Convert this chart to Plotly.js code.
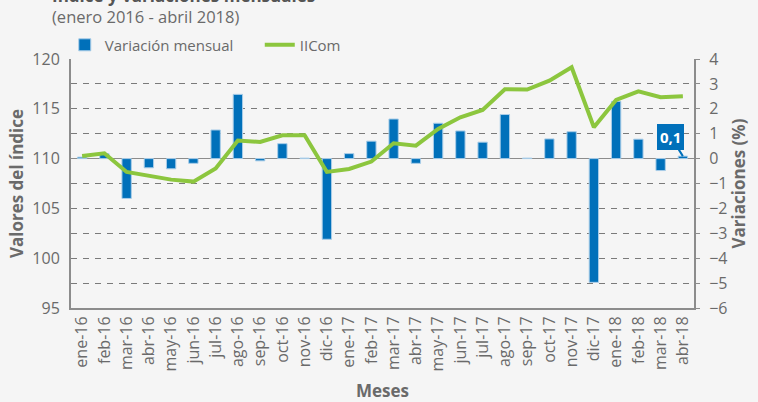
<!DOCTYPE html>
<html>
<head>
<meta charset="utf-8">
<script src="https://cdn.plot.ly/plotly-3.0.1.min.js"></script>
<style>
html,body{margin:0;padding:0;background:#f5f5f5;}
#chart{width:758px;height:402px;}
</style>
</head>
<body>
<div id="chart"></div>
<script>
var meses = ['ene-16','feb-16','mar-16','abr-16','may-16','jun-16','jul-16','ago-16','sep-16','oct-16','nov-16','dic-16',
             'ene-17','feb-17','mar-17','abr-17','may-17','jun-17','jul-17','ago-17','sep-17','oct-17','nov-17','dic-17',
             'ene-18','feb-18','mar-18','abr-18'];
var variacionMensual = [0.06, 0.2, -1.6, -0.37, -0.41, -0.19, 1.15, 2.58, -0.09, 0.6, 0.02, -3.24,
                        0.2, 0.7, 1.59, -0.19, 1.42, 1.11, 0.66, 1.77, 0.02, 0.79, 1.08, -4.97,
                        2.3, 0.78, -0.48, 0.1];
var iicom = [110.27, 110.54, 108.66, 108.29, 107.89, 107.69, 109.0, 111.81, 111.67, 112.34, 112.34, 108.66,
             108.96, 109.7, 111.54, 111.3, 112.98, 114.15, 114.89, 116.96, 116.93, 117.83, 119.17, 113.15,
             115.89, 116.76, 116.16, 116.26];
var etiquetaUltimo = '0,1';

var gray = '#6a6a6a';
var blue = '#0070ba';
var green = '#8cc63e';

var traces = [
  {
    type: 'bar', name: 'Variación mensual', x: meses, y: variacionMensual,
    xaxis: 'x', yaxis: 'y',
    marker: {color: blue, line: {color: '#a9cde8', width: 1}},
    hoverinfo: 'x+y'
  },
  {
    type: 'scatter', mode: 'lines', name: 'IICom', x: meses, y: iicom,
    xaxis: 'x', yaxis: 'y2',
    line: {color: green, width: 4},
    hoverinfo: 'x+y'
  }
];

var layout = {
  width: 758, height: 402,
  margin: {l: 71, r: 64, t: 59, b: 94},
  paper_bgcolor: '#f5f5f5', plot_bgcolor: '#f5f5f5',
  font: {family: '"Open Sans", "Noto Sans", sans-serif', color: gray, size: 14},
  bargap: 0.58,
  showlegend: true,
  legend: {
    orientation: 'h', x: -0.01, xanchor: 'left', y: 1.056, yanchor: 'middle',
    font: {size: 15, color: gray}, bgcolor: 'rgba(0,0,0,0)',
    entrywidth: 150, entrywidthmode: 'pixels', itemwidth: 30
  },
  xaxis: {
    type: 'category', tickangle: -90, tickfont: {size: 16, color: gray},
    showline: true, linecolor: '#8c8c8c', linewidth: 2, mirror: false,
    ticks: '', showgrid: false, zeroline: false,
    title: {text: 'Meses', font: {size: 17, color: gray, weight: 'bold'}, standoff: 20}
  },
  yaxis: {
    side: 'right', range: [-6, 4], dtick: 1, tick0: 0,
    showline: true, linecolor: '#8c8c8c', linewidth: 2,
    ticks: 'outside', ticklen: 4, tickcolor: '#8c8c8c',
    tickfont: {size: 16, color: gray},
    showgrid: true, gridcolor: '#7a7a7a', gridwidth: 1, griddash: '6px,6px',
    zeroline: true, zerolinecolor: '#8c8c8c', zerolinewidth: 1.5,
    ticklabelstandoff: 6,
    title: {text: 'Variaciones (%)', font: {size: 17, color: gray, weight: 'bold'}, standoff: 1}
  },
  yaxis2: {
    overlaying: 'y', side: 'left', range: [95, 120], dtick: 5,
    showline: true, linecolor: '#8c8c8c', linewidth: 2,
    ticks: '', showgrid: false, zeroline: false,
    tickfont: {size: 16, color: gray},
    ticklabelstandoff: 6,
    title: {text: 'Valores del índice', font: {size: 17, color: gray, weight: 'bold'}, standoff: 4}
  },
  annotations: [
    {
      text: 'Índice y variaciones mensuales', xref: 'paper', yref: 'paper',
      x: -0.034, xanchor: 'left', y: 1.2, yanchor: 'bottom', showarrow: false,
      font: {size: 17, color: '#555555', weight: 'bold'}
    },
    {
      text: '(enero 2016 - abril 2018)', xref: 'paper', yref: 'paper',
      x: -0.034, xanchor: 'left', y: 1.169, yanchor: 'middle', showarrow: false,
      font: {size: 16.5, color: gray}
    },
    {
      text: '<b>' + etiquetaUltimo + '</b>', xref: 'x', yref: 'y',
      x: meses[meses.length - 1], y: variacionMensual[variacionMensual.length - 1],
      showarrow: true, arrowhead: 0, arrowwidth: 2, arrowcolor: blue, standoff: 0,
      ax: -12, ay: -19,
      bgcolor: blue, bordercolor: blue, borderpad: 2,
      font: {size: 15, color: '#ffffff'}
    }
  ]
};

Plotly.newPlot('chart', traces, layout, {displayModeBar: false, staticPlot: true});
</script>
</body>
</html>
